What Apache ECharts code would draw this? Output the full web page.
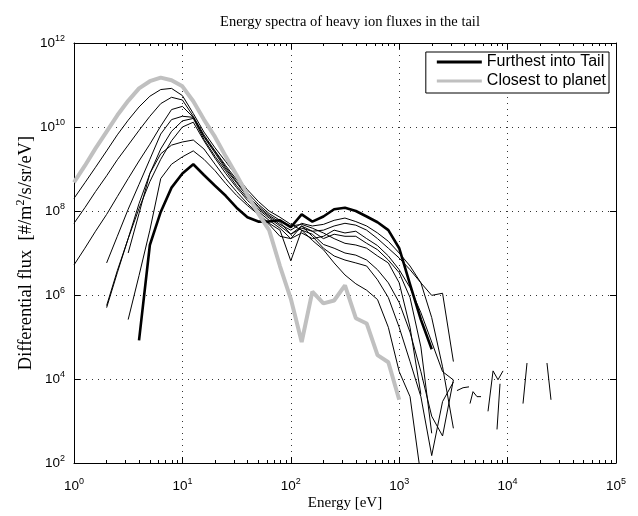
<!DOCTYPE html>
<html><head><meta charset="utf-8">
<script src="https://cdn.jsdelivr.net/npm/echarts@6/dist/echarts.min.js"></script>
<style>html,body{margin:0;padding:0;background:#fff}#c{width:638px;height:516px}</style>
</head><body><div id="c"></div>
<script>
// Energy grid [eV]
const energies = [1, 1.26, 1.58, 2.0, 2.51, 3.16, 3.98, 5.01, 6.31, 7.94, 10, 12.6, 15.8, 20, 25.1, 31.6, 39.8, 50.1, 63.1, 79.4, 100, 126, 158, 200, 251, 316, 398, 501, 631, 794, 1000, 1259, 1585, 1995, 2512, 3162];

// Differential flux [#/m2/s/sr/eV]
const closestFlux = [4.8e8, 1.2e9, 3.1e9, 7.8e9, 1.9e10, 4.2e10, 8.3e10, 1.23e11, 1.5e11, 1.3e11, 9.3e10, 4.1e10, 1.5e10, 5.8e9, 2.0e9, 7.2e8, 2.45e8, 8.7e7, 3.5e7, 4.9e6, 8.1e5, 7.6e4, 1.2e6, 6.3e5, 7.4e5, 1.7e6, 2.8e5, 2.1e5, 3.7e4, 2.5e4, 3.2e3];
const furthestFlux = [null, null, null, null, null, null, 8.3e4, 1.55e7, 9.5e7, 3.6e8, 7.8e8, 1.3e9, 7.2e8, 4.0e8, 2.3e8, 1.2e8, 7.1e7, 5.6e7, 5.6e7, 6.0e7, 4.1e7, 8.3e7, 5.6e7, 7.4e7, 1.1e8, 1.2e8, 1.0e8, 7.4e7, 5.4e7, 3.5e7, 1.3e7, 1.8e6, 2.6e5, 5.1e4];
const pass1Flux = [2.0e8, 4.7e8, 1.1e9, 2.7e9, 6.5e9, 1.45e10, 3.0e10, 5.4e10, 7.8e10, 8.3e10, 5.6e10, 2.1e10, 7.6e9, 3.2e9, 1.5e9, 6.9e8, 3.2e8, 1.7e8, 1.0e8, 7.1e7, 4.8e7, 3.5e7, 2.0e7, 1.2e7, 5.8e6, 3.0e6, 1.85e6, 1.3e6, 7.8e5, 1.7e5, 1.5e4, 3.8e3, 49];
const pass2Flux = [5.1e7, 1.2e8, 2.9e8, 6.9e8, 1.66e9, 3.7e9, 8.3e9, 1.8e10, 3.6e10, 5.1e10, 4.4e10, 1.8e10, 6.5e9, 2.7e9, 1.2e9, 5.6e8, 2.75e8, 1.45e8, 8.7e7, 6.0e7, 4.4e7, 4.8e7, 3.9e7, 3.0e7, 2.2e7, 1.7e7, 1.55e7, 1.3e7, 8.5e6, 5.8e6, 1.95e6, 1.7e5, 4.3e3];
const pass3Flux = [5.2e6, 1.3e7, 3.3e7, 8.3e7, 2.2e8, 5.9e8, 1.55e9, 3.9e9, 1.05e10, 2.6e10, 3.1e10, 1.7e10, 6.0e9, 2.6e9, 1.1e9, 5.0e8, 2.35e8, 1.3e8, 7.9e7, 5.4e7, 2.8e7, 4.4e7, 3.3e7, 2.2e7, 2.8e7, 2.5e7, 2.5e7, 1.7e7, 1.2e7, 6.8e6, 3.4e6, 8.7e5, 5.8e4, 5.1e2];
const pass4Flux = [null, null, null, 5.8e6, 2.5e7, 1.1e8, 4.3e8, 1.7e9, 6.8e9, 1.5e10, 1.8e10, 1.7e10, 5.8e9, 2.4e9, 1.0e9, 4.7e8, 2.2e8, 1.2e8, 7.4e7, 4.8e7, 3.5e7, 5.1e7, 4.4e7, 4.8e7, 6.0e7, 6.8e7, 5.6e7, 4.4e7, 3.0e7, 1.9e7, 1.0e7, 4.9e6, 1.95e6, 2.9e5, 1.95e4, 6.7e2];
const pass5Flux = [null, null, null, 5.0e5, 3.4e6, 2.2e7, 1.5e8, 7.8e8, 3.0e9, 7.9e9, 1.4e10, 1.6e10, 5.1e9, 2.0e9, 9.1e8, 4.0e8, 2.0e8, 1.1e8, 6.8e7, 4.4e7, 2.8e7, 3.9e7, 3.3e7, 3.5e7, 4.4e7, 5.1e7, 4.6e7, 3.5e7, 2.2e7, 1.3e7, 7.6e6, 4.0e6, 1.95e6, 9.8e5, 1.1e6, 2.6e4];
const pass6Flux = [null, null, null, 5.6e5, 3.8e6, 2.2e7, 1.15e8, 5.0e8, 1.7e9, 4.7e9, 1.0e10, 1.3e10, 4.7e9, 1.8e9, 7.8e8, 3.6e8, 1.8e8, 9.8e7, 6.0e7, 3.9e7, 2.2e7, 3.0e7, 2.2e7, 2.5e7, 3.5e7, 3.0e7, 3.3e7, 2.2e7, 1.5e7, 8.5e6, 4.0e6, 1.5e6, 3.8e5, 7.6e4, 1.5e4, 9.5e3];
const pass7Flux = [null, null, null, null, null, 1.0e7, 8.7e7, 7.8e8, 2.3e9, 3.7e9, 4.4e9, 4.9e9, 3.0e9, 1.3e9, 5.9e8, 2.9e8, 1.5e8, 8.7e7, 5.1e7, 3.5e7, 6.5e6, 3.5e7, 2.8e7, 1.6e7, 1.3e7, 1.0e7, 8.9e6, 6.8e6, 4.0e6, 1.95e6, 6.6e5, 1.3e5, 1.5e4, 1.3e3, 4.4e2, 9.5e3];
const pass8Flux = [null, null, null, null, null, 2.6e5, 2.9e6, 3.5e7, 5.9e8, 1.3e9, 1.95e9, 2.7e9, 1.7e9, 9.1e8, 4.5e8, 2.35e8, 1.35e8, 8.3e7, 4.8e7, 2.5e7, 2.2e7, 4.4e7, 2.5e7, 1.3e7, 8.5e6, 6.8e6, 5.8e6, 4.9e6, 2.3e6, 8.7e5, 1.7e5, 2.6e4, 3.8e3, 1.5e2, 2.9e3, 8.5e3];

// Sparse high-energy fragments (null = gap)
const tailEnergy = [3412, 3882, 4406, null, 4498, 4797, 5222, 5687, null, 6595, 7341, 8155, 9073, null, 7985, 8511, null, 13870, 15101, null, 23079, 25133];
const tailFlux = [5.3e3, 6.2e3, 6.5e3, null, 2.6e3, 5.0e3, 3.8e3, 3.8e3, null, 1.7e3, 1.56e4, 9.6e3, 1.56e4, null, 6.3e2, 7.7e3, null, 2.6e3, 2.4e4, null, 2.4e4, 3.2e3];

const xTickValues = [1, 10, 100, 1000, 10000, 100000];
const yTickValues = [1e2, 1e4, 1e6, 1e8, 1e10, 1e12];

const minorX = [];
for (let d = 0; d < 5; d++) for (let m = 2; m <= 9; m++) minorX.push(m * Math.pow(10, d));

function pairs(xs, ys) { return xs.map((e, i) => [e, ys[i] == null ? null : ys[i]]); }

const sansFont = '"Liberation Sans", Arial, Helvetica, sans-serif';
const serifFont = '"Liberation Serif", "Times New Roman", serif';

function powLabel(v) {
  const e = Math.round(Math.log10(v));
  return '{b|10}{e|' + e + '}';
}
const labelRich = {
  b: { fontFamily: sansFont, fontSize: 13.5, color: '#000' },
  e: { fontFamily: sansFont, fontSize: 9, color: '#000', padding: [0, 0, 9, 0] }
};

const gridLine = { show: true, lineStyle: { color: '#333', type: [1, 5], width: 1 } };

const thinNames = ['pass1', 'pass2', 'pass3', 'pass4', 'pass5', 'pass6', 'pass7', 'pass8'];
const thinData = [pass1Flux, pass2Flux, pass3Flux, pass4Flux, pass5Flux, pass6Flux, pass7Flux, pass8Flux];

const series = [];
thinData.forEach((f, i) => {
  series.push({
    name: thinNames[i], type: 'line', data: pairs(energies, f), showSymbol: false, symbol: 'none',
    lineStyle: { color: '#000', width: 1 }, connectNulls: false, silent: true, z: 2
  });
});
series.push({
  name: 'tail fragments', type: 'line', data: pairs(tailEnergy, tailFlux), showSymbol: false, symbol: 'none',
  lineStyle: { color: '#000', width: 1 }, connectNulls: false, silent: true, z: 2
});
series.push({
  name: 'Furthest into Tail', type: 'line', data: pairs(energies, furthestFlux), showSymbol: false, symbol: 'none',
  lineStyle: { color: '#000', width: 2.6 }, itemStyle: { color: '#000' }, connectNulls: false, silent: true, z: 3
});
series.push({
  name: 'Closest to planet', type: 'line', data: pairs(energies, closestFlux), showSymbol: false, symbol: 'none',
  lineStyle: { color: '#c0c0c0', width: 4 }, itemStyle: { color: '#c0c0c0' }, connectNulls: false, silent: true, z: 4
});

const chart = echarts.init(document.getElementById('c'), null, { renderer: 'canvas' });
chart.setOption({
  animation: false,
  backgroundColor: '#fff',
  title: {
    text: 'Energy spectra of heavy ion fluxes in the tail',
    left: 345, top: 10, textAlign: 'center',
    textStyle: { fontFamily: serifFont, fontSize: 14.5, fontWeight: 'normal', color: '#000' }
  },
  legend: {
    data: ['Furthest into Tail', 'Closest to planet'],
    orient: 'vertical', right: 29, top: 52,
    icon: 'rect', itemWidth: 45, itemHeight: 3, itemGap: 3,
    backgroundColor: '#fff', borderColor: '#000', borderWidth: 1, borderRadius: 0,
    padding: [2, 3, 4, 11],
    textStyle: { fontFamily: sansFont, fontSize: 16, color: '#000' },
    selectedMode: false
  },
  grid: { left: 74, right: 22, top: 43, bottom: 49, containLabel: false },
  xAxis: [
    {
      type: 'log', logBase: 10, min: 1, max: 1e5, position: 'bottom',
      name: 'Energy [eV]', nameLocation: 'middle', nameGap: 33, nameMoveOverlap: false,
      nameTextStyle: { fontFamily: serifFont, fontSize: 15, color: '#000' },
      axisLine: { show: true, lineStyle: { color: '#000', width: 1 } },
      axisTick: { show: true, inside: true, length: 6, customValues: xTickValues, lineStyle: { color: '#000' } },
      axisLabel: { show: true, customValues: xTickValues, formatter: powLabel, rich: labelRich, margin: 14 },
      splitLine: gridLine
    },
    {
      type: 'log', logBase: 10, min: 1, max: 1e5, position: 'top',
      axisLine: { show: true, lineStyle: { color: '#000', width: 1 } },
      axisTick: { show: true, inside: true, length: 6, customValues: xTickValues, lineStyle: { color: '#000' } },
      axisLabel: { show: false }, splitLine: { show: false }
    },
    {
      type: 'log', logBase: 10, min: 1, max: 1e5, position: 'bottom',
      axisLine: { show: false },
      axisTick: { show: true, inside: true, length: 3, customValues: minorX, lineStyle: { color: '#000' } },
      axisLabel: { show: false }, splitLine: { show: false }
    },
    {
      type: 'log', logBase: 10, min: 1, max: 1e5, position: 'top',
      axisLine: { show: false },
      axisTick: { show: true, inside: true, length: 3, customValues: minorX, lineStyle: { color: '#000' } },
      axisLabel: { show: false }, splitLine: { show: false }
    }
  ],
  yAxis: [
    {
      type: 'log', logBase: 10, min: 1e2, max: 1e12, position: 'left',
      name: 'Differential flux  [#/m{s|2}/s/sr/eV]', nameLocation: 'middle', nameGap: 36, nameMoveOverlap: false,
      nameTextStyle: { fontFamily: serifFont, fontSize: 18.5, color: '#000',
        rich: { s: { fontFamily: serifFont, fontSize: 12, color: '#000', padding: [0, 0, 11, 0] } } },
      axisLine: { show: true, lineStyle: { color: '#000', width: 1 } },
      axisTick: { show: true, inside: true, length: 6, customValues: yTickValues, lineStyle: { color: '#000' } },
      axisLabel: { show: true, customValues: yTickValues, formatter: powLabel, rich: labelRich, margin: 9 },
      splitLine: gridLine
    },
    {
      type: 'log', logBase: 10, min: 1e2, max: 1e12, position: 'right',
      axisLine: { show: true, lineStyle: { color: '#000', width: 1 } },
      axisTick: { show: true, inside: true, length: 6, customValues: yTickValues, lineStyle: { color: '#000' } },
      axisLabel: { show: false }, splitLine: { show: false }
    }
  ],
  series: series
});
</script>
</body></html>
